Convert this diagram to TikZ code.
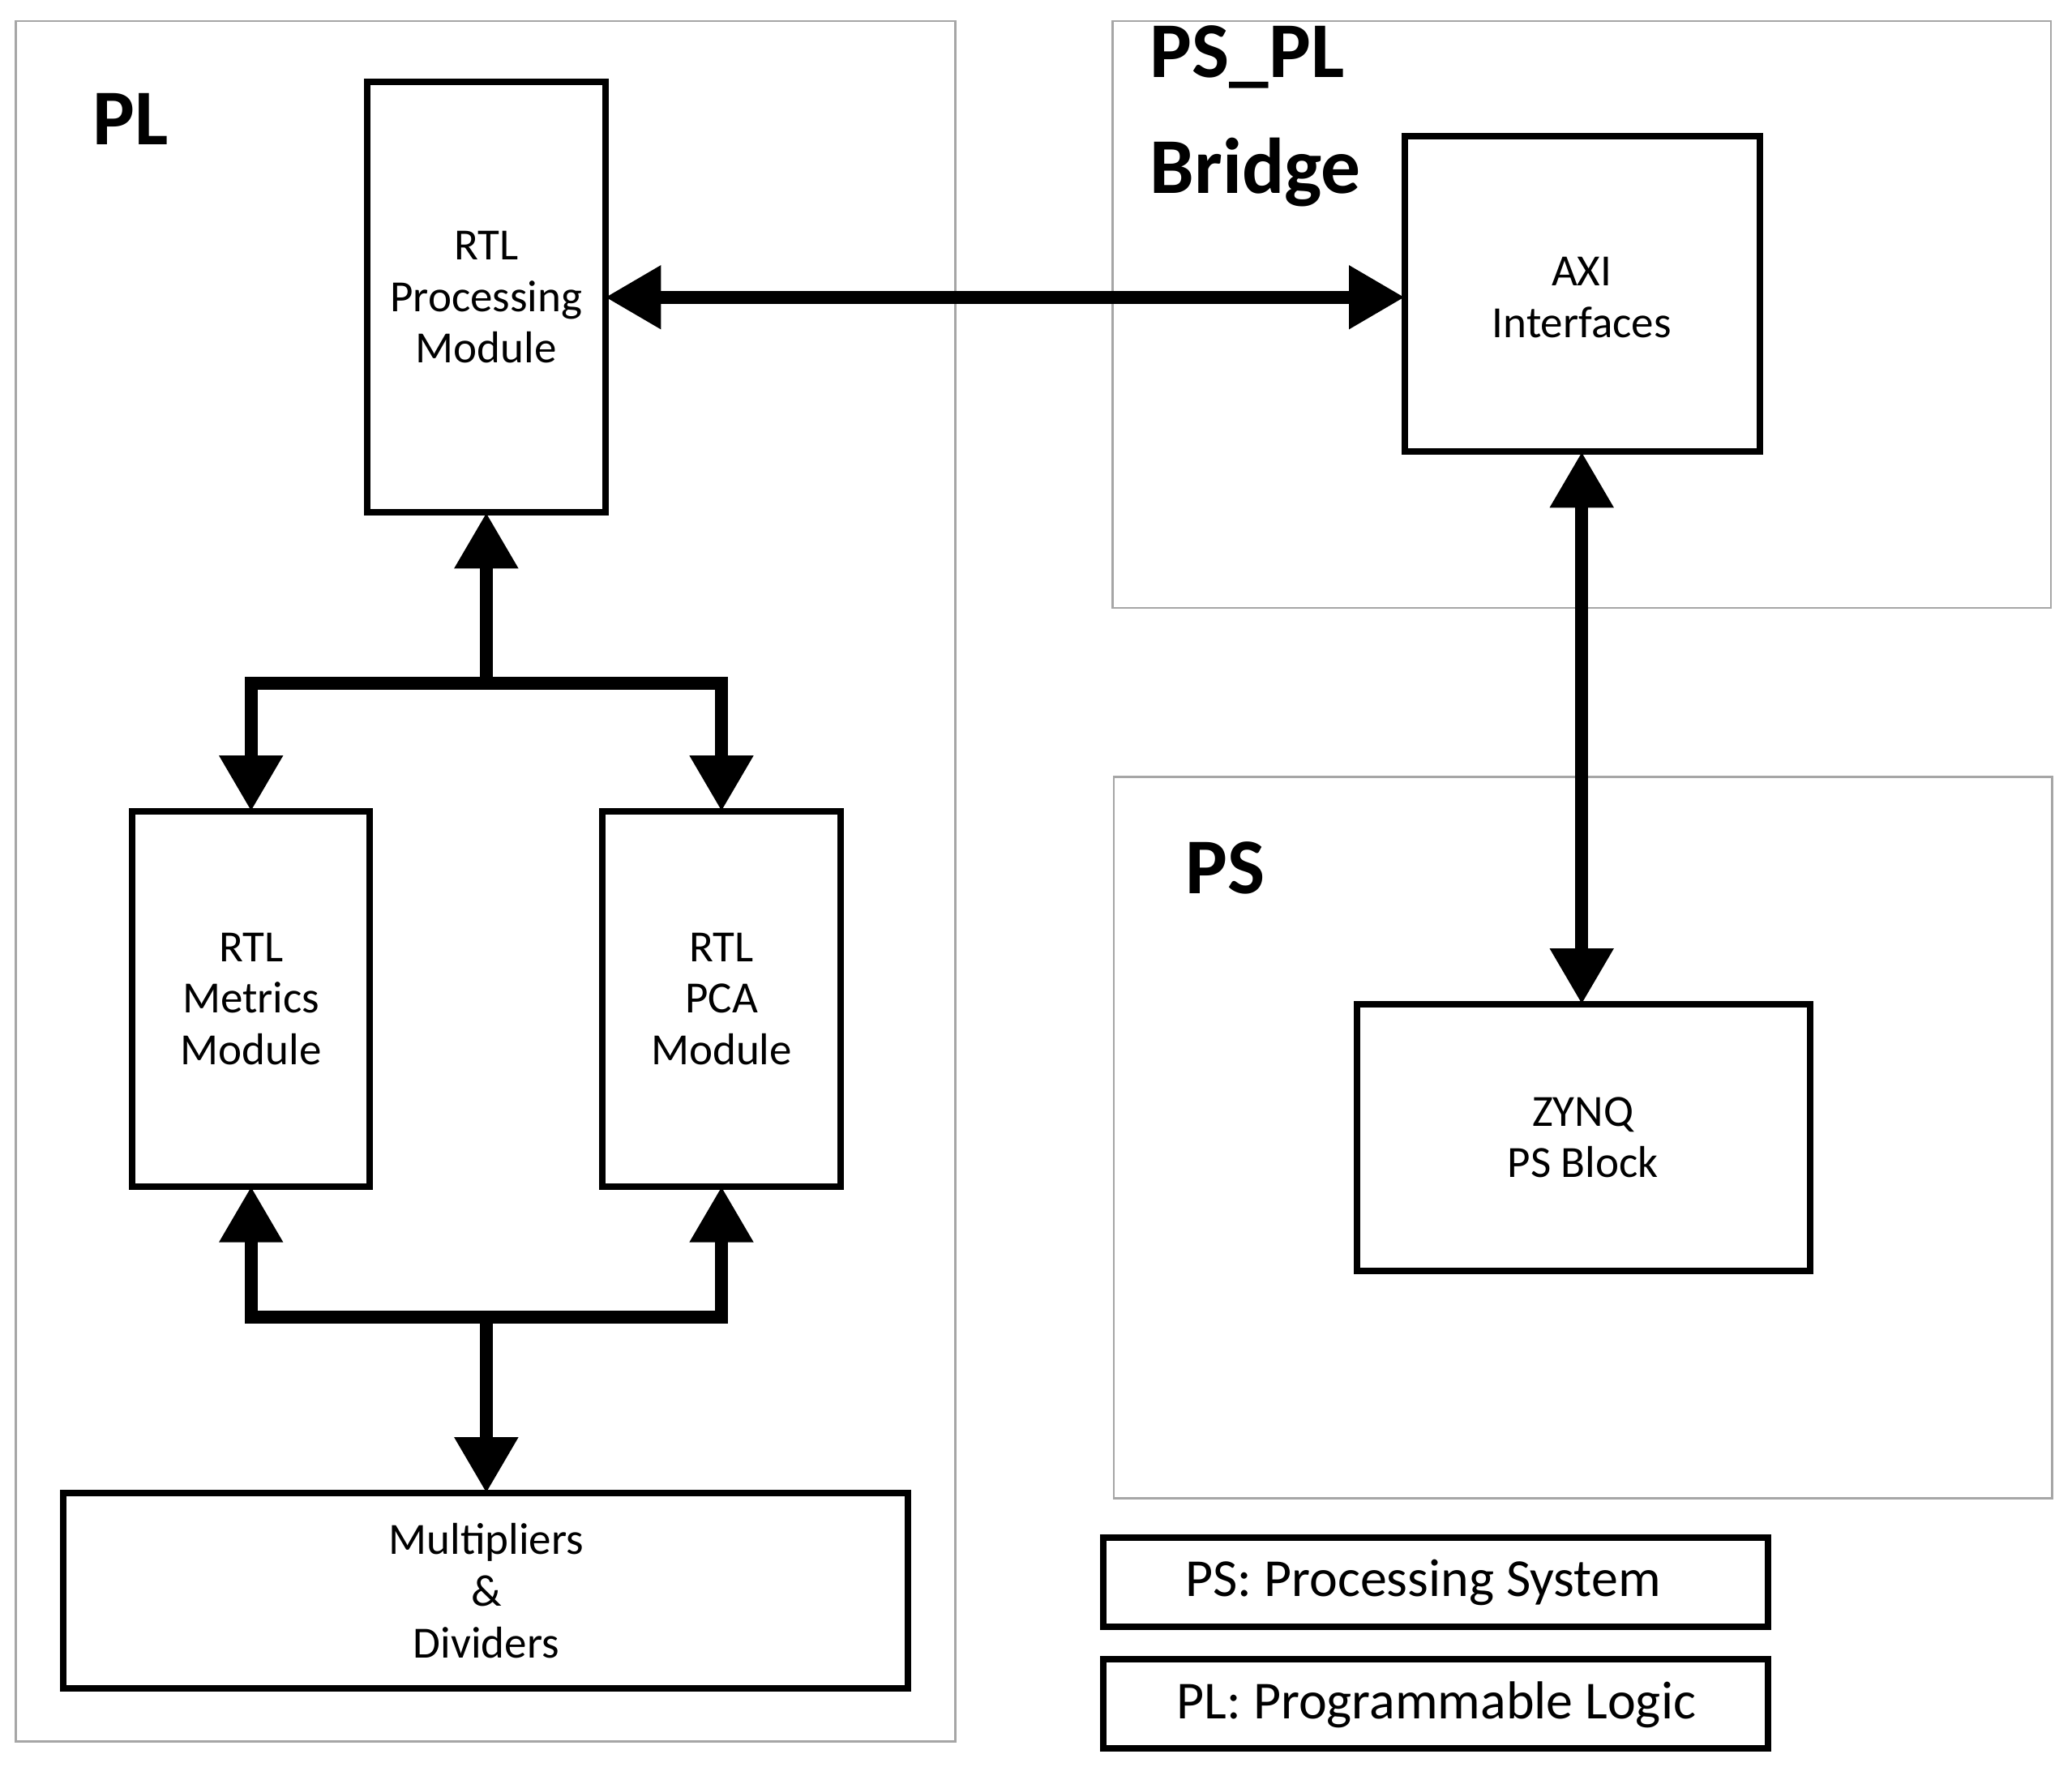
\documentclass[tikz,border=0pt]{standalone}
\usepackage{fontspec}
\setmainfont{Carlito}
\usetikzlibrary{arrows.meta}
\begin{document}
\begin{tikzpicture}[x=0.01cm,y=-0.01cm,
  region/.style={draw=gray!70,line width=0.4pt},
  blk/.style={draw=black,line width=1.4pt,fill=white},
  body/.style={align=center,font=\fontsize{9.6}{11.1}\selectfont},
  title/.style={font=\fontsize{17}{20}\selectfont\bfseries,anchor=west,align=left},
  leg/.style={font=\fontsize{11.5}{14}\selectfont},
  con/.style={line width=2.8pt,-{Triangle[width=13pt,length=12pt]}},
  dcon/.style={line width=2.8pt,{Triangle[width=13pt,length=12pt]}-{Triangle[width=13pt,length=12pt]}},
  bar/.style={line width=2.8pt}]
\useasboundingbox (0,0) rectangle (1568,1337);
\draw[region] (12,16) rectangle (723,1318);
\draw[region] (842,16) rectangle (1552,460);
\draw[region] (843,588) rectangle (1553,1134);
\node[title] (tpl) at (58,90) {PL};
\node[title,align=left] (tbr) at (858,88) {PS\_PL\\[5pt]Bridge};
\node[title] (tps) at (885,657) {PS};
\draw[blk] (278,62) rectangle (458,388);
\node[body] (proc) at (368,225) {RTL\\Processing\\Module};
\draw[blk] (1063,103) rectangle (1332,342);
\node[body] (axi) at (1197,225) {AXI\\Interfaces};
\draw[blk] (100,614) rectangle (280,898);
\node[body] (met) at (190,756) {RTL\\Metrics\\Module};
\draw[blk] (456,614) rectangle (636,898);
\node[body] (pca) at (546,756) {RTL\\PCA\\Module};
\draw[blk] (1027,760) rectangle (1370,962);
\node[body] (zynq) at (1198,861) {ZYNQ\\PS Block};
\draw[blk] (48,1130) rectangle (687,1278);
\node[body] (mul) at (368,1204) {Multipliers\\\&\\Dividers};
\draw[blk] (835,1164) rectangle (1338,1231);
\node[leg] (l1) at (1077,1198) {PS: Processing System};
\draw[blk] (835,1256) rectangle (1338,1323);
\node[leg] (l2) at (1087,1290) {PL: Programmable Logic};
\coordinate (pR) at (458,225); \coordinate (aL) at (1063,225);
\coordinate (aB) at (1197,342); \coordinate (zT) at (1197,760);
\coordinate (pB) at (368,388); \coordinate (j1) at (368,517);
\coordinate (j1l) at (190,517); \coordinate (j1r) at (546,517);
\coordinate (mT) at (190,614); \coordinate (cT) at (546,614);
\coordinate (mB) at (190,898); \coordinate (cB) at (546,898);
\coordinate (j2) at (368,997); \coordinate (j2l) at (190,997); \coordinate (j2r) at (546,997);
\coordinate (uT) at (368,1130);
\draw[dcon] (pR) -- (aL);
\draw[dcon] (aB) -- (zT);
\draw[con] (j1) -- (pB);
\draw[bar,line cap=rect] (j1l) -- (j1r);
\draw[con] (j1l) -- (mT);
\draw[con] (j1r) -- (cT);
\draw[bar,line cap=rect] (j2l) -- (j2r);
\draw[con] (j2l) -- (mB);
\draw[con] (j2r) -- (cB);
\draw[con] (j2) -- (uT);
\end{tikzpicture}
\end{document}
